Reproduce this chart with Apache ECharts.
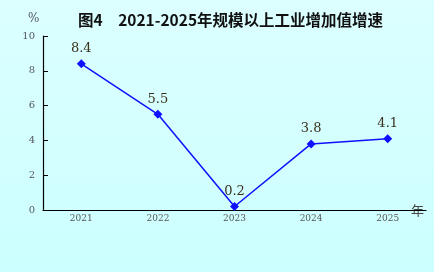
<!DOCTYPE html>
<html><head><meta charset="utf-8">
<script src="https://cdn.jsdelivr.net/npm/echarts@6/dist/echarts.min.js"></script>
<style>html,body{margin:0;padding:0;}#c{width:434px;height:272px;}</style>
</head><body><div id="c"></div>
<script>
const categories = ['2021','2022','2023','2024','2025'];
const values = [8.4, 5.5, 0.2, 3.8, 4.1];
const yTicks = [0, 2, 4, 6, 8, 10];
const titleText = '图4　2021-2025年规模以上工业增加值增速';

const chart = echarts.init(document.getElementById('c'));
chart.setOption({
  backgroundColor: new echarts.graphic.LinearGradient(0,0,0,1,[{offset:0,color:'#dcffff'},{offset:1,color:'#ccffff'}]),
  animation: false,
  title: {
    text: titleText, left: 73, top: 7,
    textStyle: {fontFamily: 'Noto Sans CJK SC', fontWeight: 'bold', fontSize: 15.5, color: '#111'}
  },
  graphic: [
    {type:'text', left: 28, top: 13, style:{text:'%', font:'12px "DejaVu Serif"', fill:'#556'}},
    {type:'text', left: 411, top: 204, style:{text:'年', font:'13px "Noto Sans CJK SC"', fill:'#444'}}
  ],
  grid: {left: 43, right: 8, top: 36, bottom: 62},
  xAxis: {
    type: 'category', data: categories, boundaryGap: true,
    axisLine: {lineStyle: {color: '#000', width: 1.2}},
    axisTick: {inside: true, length: 6, lineStyle: {color: '#000'}},
    axisLabel: {fontFamily: 'DejaVu Serif', fontSize: 9, color: '#555', margin: 4}
  },
  yAxis: {
    type: 'value', min: yTicks[0], max: yTicks[yTicks.length-1], interval: 2,
    splitLine: {show: false},
    axisLine: {show: true, lineStyle: {color: '#000', width: 1.2}},
    axisTick: {show: true, inside: true, length: 5, lineStyle: {color: '#000'}},
    axisLabel: {fontFamily: 'DejaVu Serif', fontSize: 10, color: '#556', margin: 8}
  },
  series: [{
    type: 'line', data: values,
    symbol: 'diamond', symbolSize: 9,
    lineStyle: {color: '#1010ff', width: 1.5},
    itemStyle: {color: '#1010ff'},
    label: {show: true, position: 'top', distance: 4, fontFamily: 'DejaVu Serif', fontSize: 13, color: '#3a2f1a',
      formatter: p => p.value.toFixed(1)}
  }]
});
</script></body></html>
